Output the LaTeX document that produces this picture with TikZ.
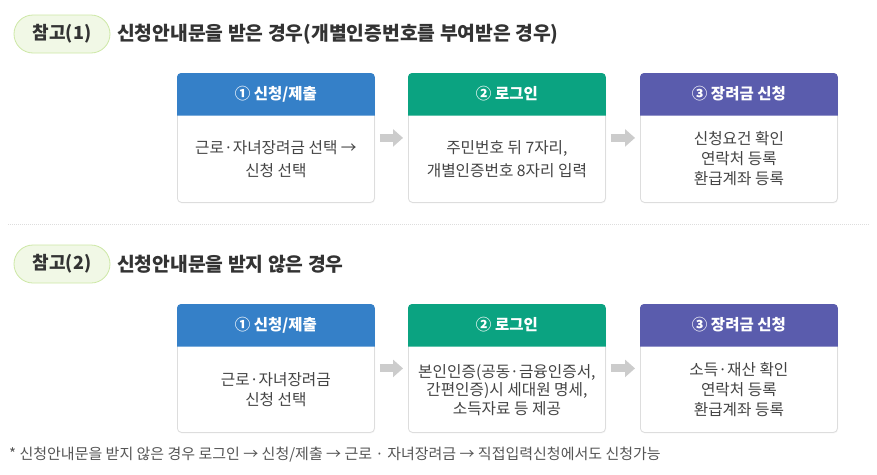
\documentclass[tikz,border=0pt]{standalone}
\usepackage{fontspec}
\setmainfont{Noto Sans CJK KR}
\usetikzlibrary{calc,shadows,arrows.meta}
\definecolor{hdrA}{HTML}{3580C8}
\definecolor{hdrB}{HTML}{0BA381}
\definecolor{hdrC}{HTML}{5A5CAD}
\definecolor{pillfill}{HTML}{F1F8E6}
\definecolor{pillline}{HTML}{CDE8A6}
\definecolor{boxline}{HTML}{DDDDDD}
\definecolor{txtdark}{HTML}{333333}
\definecolor{txtbody}{HTML}{444444}
\definecolor{txtnote}{HTML}{555555}
\definecolor{arrowgray}{HTML}{CCCCCC}
\tikzset{
  stepcard/.style={draw=boxline, line width=0.8pt, fill=white, rounded corners=4pt,
    minimum width=197pt, minimum height=129pt, anchor=north west, inner sep=0pt,
    drop shadow={shadow xshift=0.6pt, shadow yshift=-1pt, opacity=0.08}},
  hdrtext/.style={text=white, font=\fontsize{15.5}{18}\selectfont\bfseries, inner sep=0pt},
  bodytext/.style={text=txtbody, align=center, inner sep=0pt},
  pill/.style={draw=pillline, line width=0.8pt, fill=pillfill, rounded corners=19pt,
    minimum width=96pt, minimum height=38pt, text=txtdark,
    font=\fontsize{18}{21}\selectfont\bfseries, inner sep=0pt},
  titletext/.style={anchor=west, text=txtdark, font=\fontsize{19.3}{22}\selectfont\bfseries, inner sep=0pt},
  flowarrow/.style={draw=arrowgray, line width=8pt, -{Triangle[length=10pt,width=17pt]}, shorten >=0pt},
}
\newcommand{\hdrfill}[2]{%
  \fill[#2] ([yshift=-42.5pt]#1.north west) {[rounded corners=4pt] -- (#1.north west) -- (#1.north east)} -- ([yshift=-42.5pt]#1.north east) -- cycle;}
\begin{document}
\begin{tikzpicture}[x=1pt,y=1pt]
\useasboundingbox (0,0) rectangle (877,-474);
\fill[white] (0,0) rectangle (877,-474);

% Section 1
\node[pill] (p1) at (62,-34) {참고(1)};
\node[titletext] (t1) at (117,-34) {신청안내문을 받은 경우(개별인증번호를 부여받은 경우)};

\node[stepcard] (a1) at (177,-73) {};
\node[stepcard] (a2) at (408,-73) {};
\node[stepcard] (a3) at (640,-73) {};
\hdrfill{a1}{hdrA}
\hdrfill{a2}{hdrB}
\hdrfill{a3}{hdrC}
\node[hdrtext] (ah1) at ($(a1.north)+(0,-21)$) {① 신청/제출};
\node[hdrtext] (ah2) at ($(a2.north)+(0,-21)$) {② 로그인};
\node[hdrtext] (ah3) at ($(a3.north)+(0,-21)$) {③ 장려금 신청};
\node[bodytext, font=\fontsize{15.7}{23}\selectfont] (ab1) at ($(a1.north)+(0,-86)$) {근로·자녀장려금 선택 →\\신청 선택};
\node[bodytext, font=\fontsize{15.7}{23}\selectfont] (ab2) at ($(a2.north)+(0,-86)$) {주민번호 뒤 7자리,\\개별인증번호 8자리 입력};
\node[bodytext, font=\fontsize{15.7}{20}\selectfont] (ab3) at ($(a3.north)+(0,-86)$) {신청요건 확인\\연락처 등록\\환급계좌 등록};
\draw[flowarrow] ([xshift=5pt]a1.east) -- ([xshift=-5pt]a2.west);
\draw[flowarrow] ([xshift=5pt]a2.east) -- ([xshift=-5pt]a3.west);

% separator
\draw[boxline, line width=0.8pt, dash pattern=on 1pt off 1pt] (8,-224) -- (870,-224);

% Section 2
\node[pill] (p2) at (62,-264) {참고(2)};
\node[titletext] (t2) at (117,-264) {신청안내문을 받지 않은 경우};

\node[stepcard, minimum height=128pt] (b1) at (177,-304) {};
\node[stepcard, minimum height=128pt] (b2) at (408,-304) {};
\node[stepcard, minimum height=128pt] (b3) at (640,-304) {};
\hdrfill{b1}{hdrA}
\hdrfill{b2}{hdrB}
\hdrfill{b3}{hdrC}
\node[hdrtext] (bh1) at ($(b1.north)+(0,-21)$) {① 신청/제출};
\node[hdrtext] (bh2) at ($(b2.north)+(0,-21)$) {② 로그인};
\node[hdrtext] (bh3) at ($(b3.north)+(0,-21)$) {③ 장려금 신청};
\node[bodytext, font=\fontsize{15.7}{20}\selectfont] (bb1) at ($(b1.north)+(0,-86)$) {근로·자녀장려금\\신청 선택};
\node[bodytext, font=\fontsize{15.7}{18.5}\selectfont] (bb2) at ($(b2.north)+(0,-86)$) {본인인증(공동·금융인증서,\\간편인증)시 세대원 명세,\\소득자료 등 제공};
\node[bodytext, font=\fontsize{15.7}{20}\selectfont] (bb3) at ($(b3.north)+(0,-86)$) {소득·재산 확인\\연락처 등록\\환급계좌 등록};
\draw[flowarrow] ([xshift=5pt]b1.east) -- ([xshift=-5pt]b2.west);
\draw[flowarrow] ([xshift=5pt]b2.east) -- ([xshift=-5pt]b3.west);

% footnote
\node[anchor=west, text=txtnote, font=\fontsize{15}{17}\selectfont, inner sep=0pt] (fn) at (9,-455) {* 신청안내문을 받지 않은 경우 로그인 → 신청/제출 → 근로 · 자녀장려금 → 직접입력신청에서도 신청가능};
\end{tikzpicture}
\end{document}
